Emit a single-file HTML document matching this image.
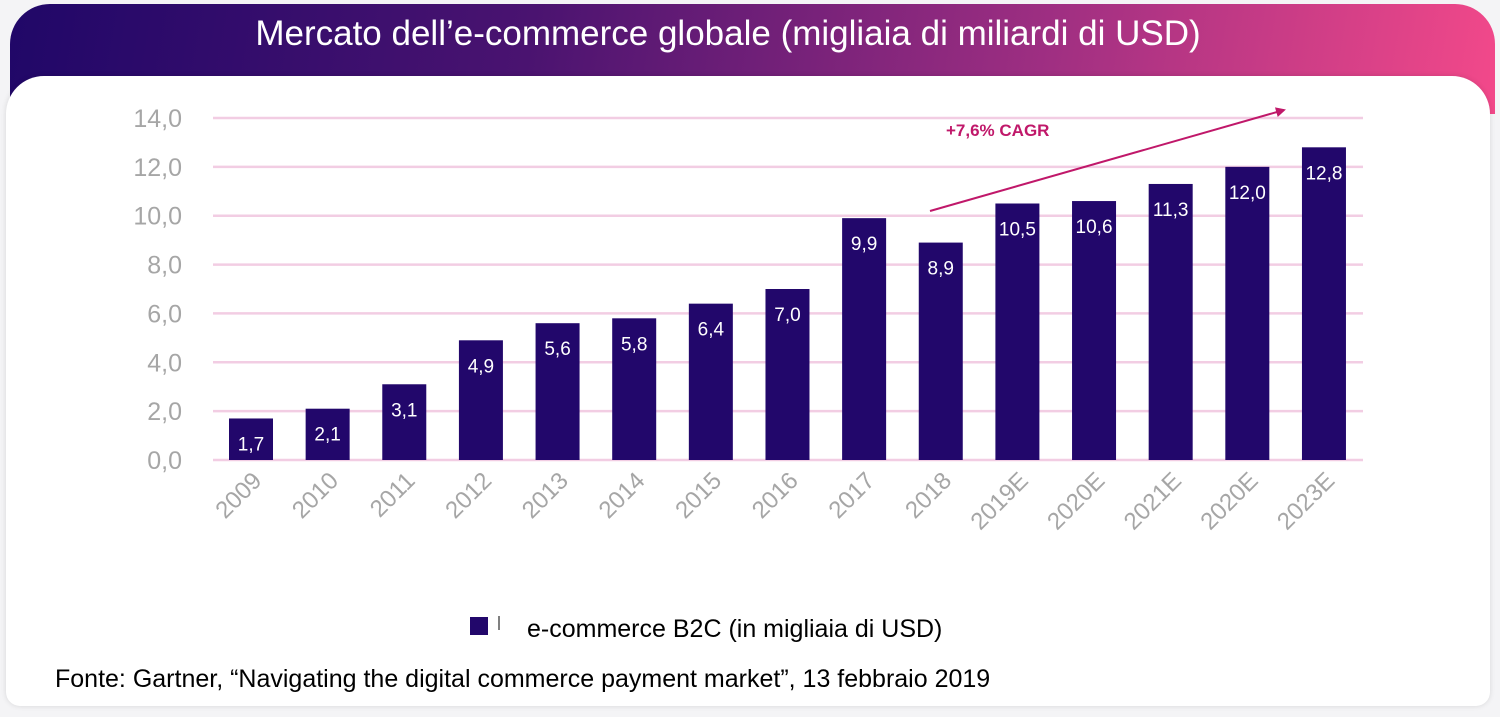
<!DOCTYPE html>
<html><head><meta charset="utf-8"><style>
body{margin:0;width:1500px;height:717px;background:#f4f4f6;overflow:hidden;font-family:"Liberation Sans",sans-serif;position:relative}
#hdr{position:absolute;left:10px;top:4px;width:1485px;height:110px;border-radius:40px 40px 0 0;background:linear-gradient(100deg,#200768 0%,#4a1370 35%,#a02f82 70%,#f3498a 100%)}
#card{position:absolute;left:6px;top:76px;width:1484px;height:630px;background:#fff;border-radius:38px 38px 14px 14px;box-shadow:0 0 6px rgba(0,0,0,0.12)}
#title{position:absolute;left:0;top:14px;width:1456px;text-align:center;color:#fff;font-size:35px}
svg{position:absolute;left:0;top:0}
</style></head><body>
<div id="hdr"></div>
<div id="title">Mercato dell’e-commerce globale (migliaia di miliardi di USD)</div>
<div id="card"></div>
<svg id="chart" width="1500" height="717">
<defs><marker id="ah" markerWidth="10" markerHeight="10" refX="8" refY="5" orient="auto" markerUnits="userSpaceOnUse" viewBox="0 0 10 10"><path d="M0,0 L10,5 L0,10 z" fill="#c0186a"/></marker></defs>
</svg>
<script>
const categories=["2009","2010","2011","2012","2013","2014","2015","2016","2017","2018","2019E","2020E","2021E","2020E","2023E"];
const values=[1.7,2.1,3.1,4.9,5.6,5.8,6.4,7.0,9.9,8.9,10.5,10.6,11.3,12.0,12.8];
const yTicks=[0,2,4,6,8,10,12,14];
const svg=document.getElementById('chart');
const NS='http://www.w3.org/2000/svg';
const y0=460,yTop=118,yMax=14,xL=213,xR=1363,step=76.64,bw=44,firstC=251;
const y=v=>y0-(v/yMax)*(y0-yTop);
const x=i=>firstC+i*step;
const fmt=v=>v.toFixed(1).replace('.',',');
function mk(t,a){const e=document.createElementNS(NS,t);for(const k in a)e.setAttribute(k,a[k]);svg.appendChild(e);return e;}
yTicks.forEach(t=>{
 const g=mk('line',{x1:xL,x2:xR,y1:y(t),y2:y(t),stroke:'#f2cde3','stroke-width':2.5});
 
 
 const l=mk('text',{x:182,y:y(t)+9,'text-anchor':'end','font-size':25,fill:'#a6a6a6'});
 l.textContent=fmt(t);
 
 
});
values.forEach((v,i)=>{
 const b=mk('rect',{x:x(i)-bw/2,y:y(v),width:bw,height:y0-y(v),fill:'#22076b'});
 
 
 const t=mk('text',{x:x(i),y:y(v)+32,'text-anchor':'middle','font-size':19,fill:'#fff'});
 t.textContent=fmt(v);
 
 
 const c=mk('text',{x:x(i)+12,y:482,'text-anchor':'end','font-size':24,fill:'#a6a6a6',transform:'rotate(-45 '+(x(i)+12)+' 482)'});
 c.textContent=categories[i];
 
 
});
const ar=mk('line',{x1:930,y1:211,x2:1284,y2:110,stroke:'#c0186a','stroke-width':2,'marker-end':'url(#ah)'});


const ct=mk('text',{x:946,y:136,'font-size':17,'font-weight':'bold',fill:'#c0186a'});
ct.textContent='+7,6% CAGR';


const ls=mk('rect',{x:470,y:617,width:18,height:18,fill:'#22076b'});


const lb=mk('line',{x1:499,x2:499,y1:616,y2:630,stroke:'#555','stroke-width':1.5});


const lt=mk('text',{x:527,y:637,'font-size':25,fill:'#000'});
lt.textContent='e-commerce B2C (in migliaia di USD)';


const src=mk('text',{x:55,y:687,'font-size':25,fill:'#000'});
src.textContent='Fonte: Gartner, “Navigating the digital commerce payment market”, 13 febbraio 2019';


</script>
</body></html>
